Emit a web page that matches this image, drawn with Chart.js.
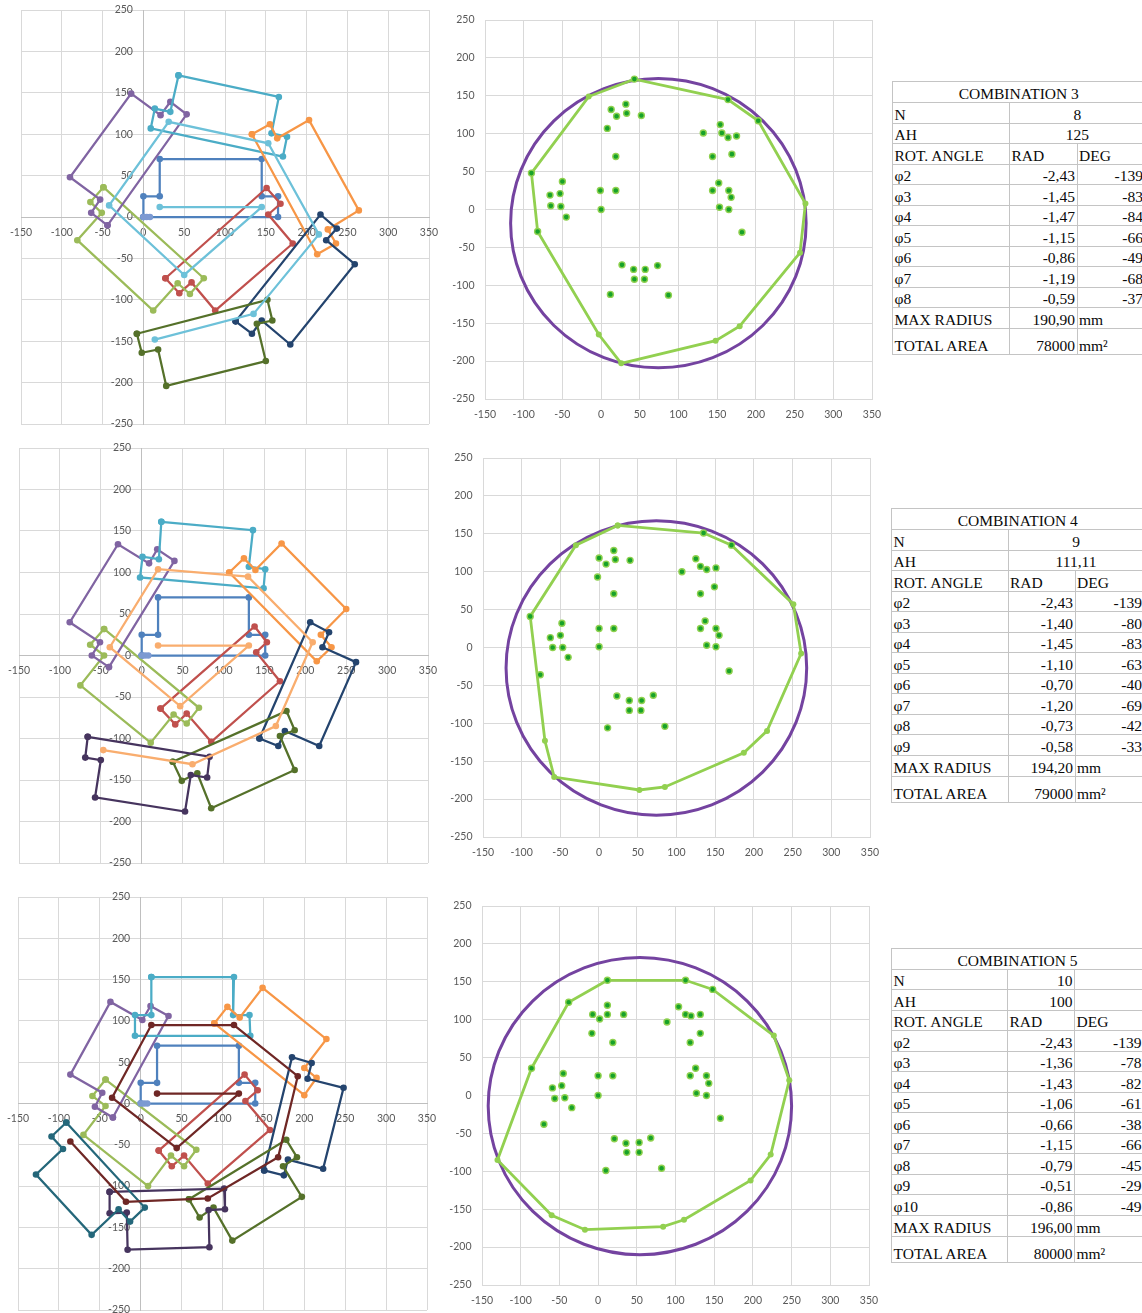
<!DOCTYPE html>
<html lang="en">
<head>
<meta charset="utf-8">
<title>Combinations 3 to 5</title>
<script src="https://cdn.jsdelivr.net/npm/chart.js@4.4.1/dist/chart.umd.min.js"></script>
<style>
  html, body { margin:0; padding:0; background:#fff; }
  body { position:relative; width:1142px; height:1313px; overflow:hidden; }
  canvas { position:absolute; }
  table.combo { position:absolute; border-collapse:collapse; table-layout:fixed;
    font-family:"Liberation Serif","Times New Roman",serif; font-size:15.5px; color:#0a0a0a; }
  table.combo td { border:1px solid #c4c4c4; padding:0 1.5px; line-height:16px;
    vertical-align:bottom; white-space:nowrap; overflow:visible; }
  .r { text-align:right; } .c { text-align:center; } .l { text-align:left; }
</style>
</head>
<body>
<script>
// ---------- Combination 3 (N = 8, AH = 125) ----------
const comb3Blue   = [[0,0],[0,25],[20,25],[20,70],[145,70],[145,25],[165,25],[165,0]];
const comb3Red    = [[27,-74],[151,35],[168,16],[153,3],[183,-32],[88,-113],[59,-79],[44,-92]];
const comb3Green  = [[-49,36],[-65,18],[-51,5],[-81,-28],[12,-113],[42,-80],[57,-93],[74,-74]];
const comb3Purple = [[-44,-10],[53,124],[33,139],[21,123],[-15,149],[-90,48],[-53,21],[-64,5]];
const comb3Aqua   = [[43,171],[166,145],[157,101],[176,97],[171,73],[9,107],[14,131],[33,127]];
const comb3Orange = [[133,100],[155,112],[164,95],[203,117],[264,8],[226,-15],[236,-32],[213,-45]];
const comb3Navy   = [[113,-126],[217,3],[237,-14],[224,-28],[259,-57],[180,-154],[145,-125],[133,-141]];
const comb3Olive  = [[-8,-141],[152,-100],[158,-125],[139,-129],[150,-174],[28,-204],[18,-160],[-2,-164]];
const comb3Chain  = [[20,12],[145,12],[50,-70],[-42,14],[31,115],[153,89],[215,-21],[135,-117],[14,-148]];
const comb3Origin = [[0,0],[4,0],[8,0]];

const comb3Points = [
  [-90,48],[-82,-29],[43,172],[164,145],[203,117],
  [13,132],[32,139],[33,127],[20,123],[52,124],[8,107],[19,70],[-1,25],[19,25],[0,0],
  [-66,19],[-65,5],[-53,21],[-50,37],[-52,4],[-45,-10],
  [132,101],[154,112],[156,101],[164,95],[175,97],[144,70],[169,73],
  [152,35],[144,25],[165,25],[168,16],[153,3],[165,0],[182,-30],
  [27,-73],[42,-79],[57,-79],[73,-74],[43,-92],[56,-92],[12,-112],[87,-113]
];
const comb3Hull = [[-90,48],[-16,149],[43,172],[164,145],[203,117],[264,8],[257,-57],[179,-154],[148,-173],[26,-203],[-3,-165],[-82,-29]];
const comb3Center = [74,-18];

const comb3N = '8', comb3AH = '125';
const comb3Rad = [-2.43,-1.45,-1.47,-1.15,-0.86,-1.19,-0.59];
const comb3Deg = [-139,-83,-84,-66,-49,-68,-37];
const comb3MaxRadius = 190.90, comb3Area = 78000;

// ---------- Combination 4 (N = 9, AH = 111,11) ----------
const comb4Blue   = [[0,0],[0,25],[20,25],[20,70],[131,70],[131,25],[151,25],[151,0]];
const comb4Red    = [[23,-64],[138,35],[153,16],[140,4],[169,-31],[85,-104],[55,-70],[41,-83]];
const comb4Green  = [[-46,32],[-63,13],[-46,0],[-75,-36],[11,-105],[39,-71],[55,-82],[70,-63]];
const comb4Purple = [[-40,-14],[40,114],[19,128],[9,111],[-29,134],[-88,40],[-51,16],[-61,0]];
const comb4Aqua   = [[24,161],[136,151],[131,107],[151,104],[149,81],[-2,94],[1,119],[21,116]];
const comb4Orange = [[107,100],[125,117],[139,103],[171,135],[250,56],[219,25],[232,10],[214,-7]];
const comb4Navy   = [[144,-100],[206,40],[229,28],[221,10],[262,-8],[217,-109],[175,-91],[167,-109]];
const comb4Olive  = [[38,-128],[177,-67],[187,-90],[169,-97],[187,-138],[85,-184],[68,-142],[49,-151]];
const comb4Plum   = [[-66,-98],[83,-122],[80,-147],[60,-144],[53,-188],[-57,-171],[-50,-126],[-69,-123]];
const comb4Chain  = [[20,12],[131,12],[47,-61],[-39,10],[20,104],[130,95],[209,16],[164,-85],[62,-131],[-47,-114]];
const comb4Origin = [[0,0],[4,0],[8,0]];

const comb4Points = [
  [-89,41],[-76,-36],[135,151],[171,135],
  [0,118],[9,110],[19,128],[21,116],[40,115],[-2,93],[19,71],[0,25],[19,25],[0,1],
  [-63,13],[-60,0],[-50,16],[-48,32],[-47,0],[-40,-13],
  [107,100],[125,117],[131,107],[139,103],[151,105],[149,80],[131,71],
  [137,35],[131,25],[151,25],[155,16],[139,3],[151,1],[168,-31],
  [23,-64],[39,-70],[55,-70],[70,-63],[39,-83],[54,-83],[11,-106],[85,-104]
];
const comb4Hull = [[24,161],[135,151],[171,135],[251,57],[261,-8],[217,-110],[187,-139],[85,-184],[52,-188],[-58,-171],[-70,-123],[-89,41],[-30,135]];
const comb4Center = [74,-27];

const comb4N = '9', comb4AH = '111,11';
const comb4Rad = [-2.43,-1.40,-1.45,-1.10,-0.70,-1.20,-0.73,-0.58];
const comb4Deg = [-139,-80,-83,-63,-40,-69,-42,-33];
const comb4MaxRadius = 194.20, comb4Area = 79000;

// ---------- Combination 5 (N = 10, AH = 100) ----------
const comb5Blue   = [[0,0],[0,25],[20,25],[20,70],[120,70],[120,25],[140,25],[140,0]];
const comb5Red    = [[22,-57],[127,35],[143,16],[128,3],[158,-32],[82,-97],[53,-63],[38,-76]];
const comb5Green  = [[-43,29],[-59,9],[-43,-3],[-70,-38],[9,-100],[37,-63],[53,-76],[68,-56]];
const comb5Purple = [[-34,-17],[34,106],[12,118],[2,101],[-37,123],[-86,35],[-47,13],[-56,-4]];
const comb5Aqua   = [[13,153],[114,153],[113,107],[133,107],[134,82],[-7,82],[-7,107],[13,107]];
const comb5Orange = [[90,97],[106,117],[121,104],[149,140],[227,78],[200,43],[215,31],[200,10]];
const comb5Navy   = [[151,-81],[185,56],[209,49],[204,30],[248,19],[223,-79],[180,-68],[175,-87]];
const comb5Olive  = [[59,-116],[178,-44],[191,-65],[174,-76],[197,-113],[112,-166],[89,-126],[72,-138]];
const comb5Plum   = [[-38,-107],[102,-103],[103,-128],[83,-129],[84,-174],[-16,-177],[-17,-132],[-38,-133]];
const comb5Teal   = [[-91,-23],[5,-126],[-13,-143],[-27,-128],[-60,-159],[-128,-86],[-95,-55],[-109,-40]];
const comb5Chain  = [[20,12],[120,12],[44,-54],[-35,7],[13,95],[114,95],[192,33],[168,-65],[82,-115],[-18,-119],[-86,-46]];
const comb5Origin = [[0,0],[4,0],[8,0]];

const comb5Points = [
  [12,152],[113,152],[148,140],[-86,36],[-38,123],
  [12,119],[-7,107],[12,107],[2,101],[33,107],[-8,82],[19,70],[0,26],[19,26],[0,0],
  [-59,10],[-56,-4],[-47,13],[-45,29],[-43,-3],[-34,-16],[-70,-38],
  [89,97],[104,117],[113,107],[120,105],[132,107],[132,82],[119,70],
  [126,36],[119,26],[140,26],[143,16],[127,3],[140,0],[158,-30],
  [21,-57],[36,-63],[53,-62],[68,-56],[37,-75],[53,-75],[10,-99],[82,-96]
];
const comb5Hull = [[12,152],[113,152],[148,140],[227,79],[247,20],[223,-78],[197,-112],[111,-164],[84,-173],[-17,-177],[-60,-158],[-130,-85],[-86,36],[-38,123]];
const comb5Center = [54,-14];

const comb5N = '10', comb5AH = '100';
const comb5Rad = [-2.43,-1.36,-1.43,-1.06,-0.66,-1.15,-0.79,-0.51,-0.86];
const comb5Deg = [-139,-78,-82,-61,-38,-66,-45,-29,-49];
const comb5MaxRadius = 196.00, comb5Area = 80000;

// Axis ranges and tick step shared by every plot
const xTicks = [-150, 350, 50];
const yTicks = [-250, 250, 50];

// ---------- styling ----------
const COL = {
  blue:'#4F81BD', red:'#C0504D', green:'#9BBB59', purple:'#8064A2', aqua:'#4BACC6',
  orange:'#F79646', navy:'#24446E', olive:'#55712A', plum:'#46345E', teal:'#24677A',
  maroon:'#6F2725', lightAqua:'#6DC1D9', lightOrange:'#F9AD6E', origin:'#7C9AD2',
  dot:'#17A229', dotEdge:'#8FD14F', hull:'#92D050', ring:'#7443A0'
};
const GRID = '#d9d9d9', AXIS = '#bfbfbf', LABEL = '#595959';
const PAD = {left:44, right:20, top:12, bottom:30};
// Two en spaces keep the value labels clear of a vertical axis placed inside the plot
const Y_GAP = '\u2002\u2002';

const pts = arr => arr.map(([x, y]) => ({x, y}));
const closed = arr => pts(arr.concat([arr[0]]));

// Circle of the maximum radius, drawn through the chart's own scales
const ringPlugin = {
  id: 'ring',
  beforeDatasetsDraw(chart, args, opts) {
    if (!opts || !opts.center) return;
    const xs = chart.scales.x, ys = chart.scales.y;
    const cx = xs.getPixelForValue(opts.center[0]);
    const cy = ys.getPixelForValue(opts.center[1]);
    const rx = Math.abs(xs.getPixelForValue(opts.center[0] + opts.radius) - cx);
    const ry = Math.abs(ys.getPixelForValue(opts.center[1] + opts.radius) - cy);
    const ctx = chart.ctx;
    ctx.save();
    ctx.beginPath();
    ctx.ellipse(cx, cy, rx, ry, 0, 0, Math.PI * 2);
    ctx.lineWidth = opts.width;
    ctx.strokeStyle = opts.color;
    ctx.stroke();
    ctx.restore();
  }
};

function makeCanvas(rect) {
  const c = document.createElement('canvas');
  const x0 = Math.round(rect[0]), y0 = Math.round(rect[1]);
  const x1 = Math.round(rect[2]), y1 = Math.round(rect[3]);
  const w = x1 - x0 + PAD.left + PAD.right, h = y1 - y0 + PAD.top + PAD.bottom;
  c.width = w; c.height = h;
  c.style.left = (x0 - PAD.left) + 'px';
  c.style.top = (y0 - PAD.top) + 'px';
  c.style.width = w + 'px';
  c.style.height = h + 'px';
  document.body.appendChild(c);
  return c;
}

function scaleSet(crossX, crossY, borderColor) {
  const tickFont = {family:'Lato, "Open Sans", sans-serif', size:10.5};
  return {
    x: { type:'linear', min:xTicks[0], max:xTicks[1], position:{y:crossY},
         ticks:{stepSize:xTicks[2], padding:9, color:LABEL, font:tickFont, maxRotation:0, autoSkip:false},
         grid:{color:GRID, lineWidth:1, drawTicks:false},
         border:{color:borderColor, width:1} },
    y: { type:'linear', min:yTicks[0], max:yTicks[1], position:{x:crossX},
         ticks:{stepSize:yTicks[2], padding:0, color:LABEL, font:tickFont, autoSkip:false,
                callback: v => v + Y_GAP},
         grid:{color:GRID, lineWidth:1, drawTicks:false},
         border:{color:borderColor, width:1} }
  };
}

function baseOptions(scales, ring) {
  return {
    responsive:false, animation:false, devicePixelRatio:1,
    layout:{padding:PAD},
    scales,
    plugins:{ legend:{display:false}, tooltip:{enabled:false}, ring: ring || {} },
    elements:{ line:{tension:0} }
  };
}

function pieceSet(data, color) {
  return { data: closed(data), showLine:true, borderColor:color, backgroundColor:color,
           borderWidth:2.25, pointRadius:3.3, pointBorderWidth:0, fill:false };
}
function chainSet(data, color) {
  return { data: pts(data), showLine:true, borderColor:color, backgroundColor:color,
           borderWidth:2.25, pointRadius:3.3, pointBorderWidth:0, fill:false };
}
function originSet(data) {
  return { data: pts(data), showLine:false, backgroundColor:COL.origin, borderColor:COL.origin,
           pointRadius:3.3, pointBorderWidth:0 };
}

// Layout drawing of the pieces (left column)
function layoutChart(rect, pieces, chain, chainColor, origin) {
  const sets = [originSet(origin), chainSet(chain, chainColor)];
  for (let i = pieces.length - 1; i >= 0; i--) sets.push(pieceSet(pieces[i][0], pieces[i][1]));
  new Chart(makeCanvas(rect), {
    type:'scatter',
    data:{ datasets: sets },
    options: baseOptions(scaleSet(0, 0, AXIS))
  });
}

// Vertex cloud, outer hull and enclosing circle (middle column)
function hullChart(rect, points, hull, center, radius) {
  new Chart(makeCanvas(rect), {
    type:'scatter',
    data:{ datasets:[
      { data: pts(points), showLine:false, backgroundColor:COL.dot, borderColor:COL.dotEdge,
        pointRadius:3, pointBorderWidth:1.4 },
      { data: closed(hull), showLine:true, borderColor:COL.hull, backgroundColor:COL.hull,
        borderWidth:2.8, pointRadius:3, pointBorderWidth:0, fill:false }
    ]},
    options: baseOptions(scaleSet(xTicks[0], yTicks[0], GRID),
                         {center, radius, color:COL.ring, width:3}),
    plugins:[ringPlugin]
  });
}

const fmt = v => v.toFixed(2).replace('.', ',');

function comboTable(title, left, top, cols, n, ah, merged, rad, deg, maxR, area) {
  const t = document.createElement('table');
  t.className = 'combo';
  t.style.left = left + 'px';
  t.style.top = top + 'px';
  t.style.width = (cols[0] + cols[1] + cols[2]) + 'px';
  let html = '<colgroup>' + cols.map(w => `<col style="width:${w}px">`).join('') + '</colgroup>';
  const row = (h, cells) => `<tr style="height:${h}px">${cells}</tr>`;
  html += row(21, `<td colspan="3" class="c">${title}</td>`);
  const pair = (label, val) => merged
    ? row(20.5, `<td class="l">${label}</td><td colspan="2" class="c">${val}</td>`)
    : row(20.5, `<td class="l">${label}</td><td class="r">${val}</td><td></td>`);
  html += pair('N', n);
  html += pair('AH', ah);
  html += row(20.5, '<td class="l">ROT. ANGLE</td><td class="l">RAD</td><td class="l">DEG</td>');
  rad.forEach((r, i) => {
    html += row(20.5, `<td class="l">φ${i + 2}</td><td class="r">${fmt(r)}</td><td class="r">${deg[i]}</td>`);
  });
  html += row(21, `<td class="l">MAX RADIUS</td><td class="r">${fmt(maxR)}</td><td class="l">mm</td>`);
  html += row(26, `<td class="l">TOTAL AREA</td><td class="r">${area}</td><td class="l">mm²</td>`);
  t.innerHTML = html;
  document.body.appendChild(t);
}

// ---------- row 1 ----------
layoutChart([20.7, 10, 429.3, 424.3], [
  [comb3Blue, COL.blue], [comb3Red, COL.red], [comb3Green, COL.green], [comb3Purple, COL.purple],
  [comb3Aqua, COL.aqua], [comb3Orange, COL.orange], [comb3Navy, COL.navy], [comb3Olive, COL.olive]
], comb3Chain, COL.lightAqua, comb3Origin);
hullChart([485, 20, 872.3, 398.7], comb3Points, comb3Hull, comb3Center, comb3MaxRadius);
comboTable('COMBINATION 3', 892, 81, [117, 67.5, 68], comb3N, comb3AH, true,
           comb3Rad, comb3Deg, comb3MaxRadius, comb3Area);

// ---------- row 2 ----------
layoutChart([19, 448.3, 427.7, 862.7], [
  [comb4Blue, COL.blue], [comb4Red, COL.red], [comb4Green, COL.green], [comb4Purple, COL.purple],
  [comb4Aqua, COL.aqua], [comb4Orange, COL.orange], [comb4Navy, COL.navy], [comb4Olive, COL.olive],
  [comb4Plum, COL.plum]
], comb4Chain, COL.lightOrange, comb4Origin);
hullChart([482.7, 458.3, 870, 836.7], comb4Points, comb4Hull, comb4Center, comb4MaxRadius);
comboTable('COMBINATION 4', 891, 508, [116.5, 67, 69], comb4N, comb4AH, true,
           comb4Rad, comb4Deg, comb4MaxRadius, comb4Area);

// ---------- row 3 ----------
layoutChart([17.7, 896.7, 426.7, 1310], [
  [comb5Blue, COL.blue], [comb5Red, COL.red], [comb5Green, COL.green], [comb5Purple, COL.purple],
  [comb5Aqua, COL.aqua], [comb5Orange, COL.orange], [comb5Navy, COL.navy], [comb5Olive, COL.olive],
  [comb5Plum, COL.plum], [comb5Teal, COL.teal]
], comb5Chain, COL.maroon, comb5Origin);
hullChart([481.7, 906.3, 869.3, 1285], comb5Points, comb5Hull, comb5Center, comb5MaxRadius);
comboTable('COMBINATION 5', 891, 947.5, [116, 67, 69], comb5N, comb5AH, false,
           comb5Rad, comb5Deg, comb5MaxRadius, comb5Area);
</script>
</body>
</html>
